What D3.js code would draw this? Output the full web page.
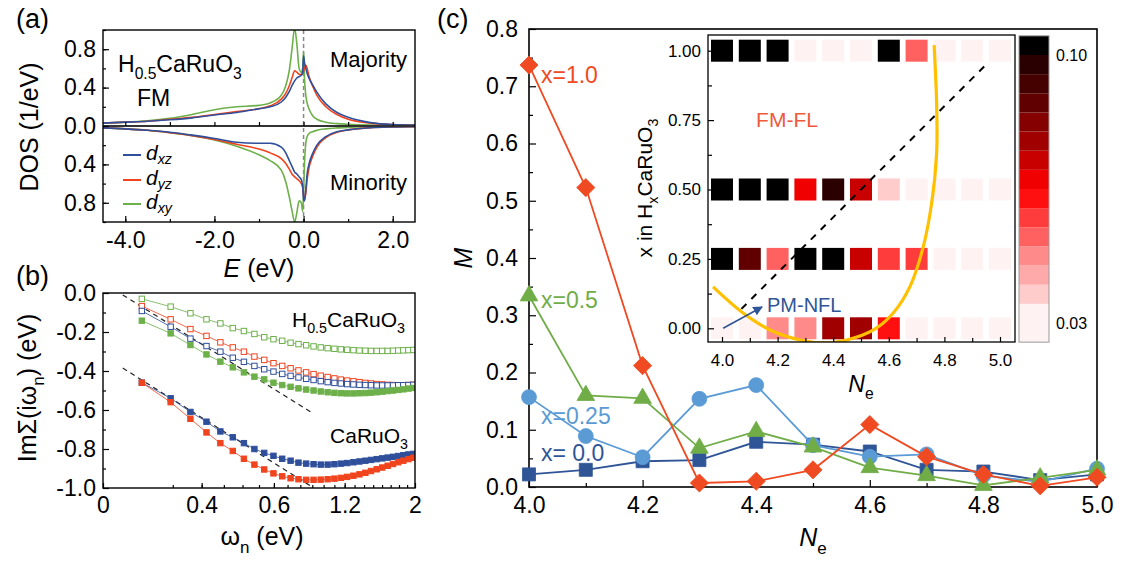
<!DOCTYPE html>
<html>
<head>
<meta charset="utf-8">
<script src="https://cdn.jsdelivr.net/npm/d3@7"></script>
<style>
  body { margin: 0; background: #fff; }
  text { font-family: Arial, "Liberation Sans", sans-serif; }
</style>
</head>
<body>
<svg id="fig" width="1123" height="561"></svg>
<script>
// ---------- data: panel (a) DOS of H0.5CaRuO3 ----------
const energy = [-4.5, -4, -3.5, -3, -2.5, -2, -1.5, -1, -0.75, -0.5, -0.4, -0.32, -0.26, -0.2, -0.15, -0.1,
  -0.05, -0.02, 0, 0.02, 0.05, 0.08, 0.12, 0.2, 0.3, 0.5, 0.75, 1, 1.5, 2, 2.5];
const dosMajXZ = [0.03, 0.04, 0.05, 0.065, 0.085, 0.115, 0.14, 0.18, 0.2, 0.25, 0.3, 0.36, 0.42, 0.47, 0.5, 0.515,
  0.53, 0.56, 0.73, 0.66, 0.6, 0.55, 0.5, 0.43, 0.35, 0.23, 0.14, 0.09, 0.035, 0.015, 0.01];
const dosMajYZ = [0.03, 0.04, 0.05, 0.07, 0.09, 0.12, 0.15, 0.18, 0.21, 0.28, 0.34, 0.42, 0.5, 0.575, 0.56, 0.54,
  0.535, 0.55, 0.57, 0.6, 0.635, 0.6, 0.52, 0.42, 0.32, 0.2, 0.12, 0.07, 0.03, 0.015, 0.01];
const dosMajXY = [0.03, 0.04, 0.055, 0.08, 0.12, 0.17, 0.2, 0.215, 0.24, 0.32, 0.42, 0.58, 0.8, 1.02, 0.85, 0.6,
  0.56, 0.6, 0.78, 0.5, 0.32, 0.24, 0.18, 0.11, 0.07, 0.04, 0.025, 0.018, 0.01, 0.007, 0.005];
const dosMinXZ = [0.02, 0.03, 0.045, 0.065, 0.095, 0.13, 0.17, 0.18, 0.18, 0.22, 0.28, 0.36, 0.42, 0.48, 0.5, 0.53,
  0.56, 0.63, 0.76, 0.78, 0.66, 0.5, 0.4, 0.29, 0.2, 0.11, 0.06, 0.04, 0.018, 0.01, 0.006];
const dosMinYZ = [0.02, 0.03, 0.045, 0.07, 0.1, 0.14, 0.19, 0.24, 0.28, 0.34, 0.39, 0.45, 0.5, 0.53, 0.55, 0.57,
  0.6, 0.64, 0.72, 0.77, 0.7, 0.56, 0.44, 0.32, 0.22, 0.12, 0.065, 0.04, 0.018, 0.01, 0.006];
const dosMinXY = [0.02, 0.03, 0.045, 0.07, 0.1, 0.145, 0.21, 0.3, 0.36, 0.46, 0.58, 0.74, 0.88, 1.0, 0.9, 0.78,
  0.8, 0.89, 0.7, 0.4, 0.18, 0.11, 0.08, 0.06, 0.045, 0.03, 0.02, 0.014, 0.008, 0.005, 0.003];

// ---------- data: panel (b) self-energy on Matsubara axis ----------
const omegaN = [0.031, 0.094, 0.157, 0.220, 0.283, 0.346, 0.408, 0.471, 0.534, 0.597, 0.660, 0.723, 0.785,
  0.848, 0.911, 0.974, 1.037, 1.100, 1.162, 1.225, 1.288, 1.351, 1.414, 1.476, 1.539, 1.602, 1.665, 1.728,
  1.791, 1.853, 1.916, 1.979];
const sigH05XYopen = [-0.03, -0.07, -0.104, -0.135, -0.156, -0.18, -0.195, -0.21, -0.227, -0.237, -0.245, -0.255,
  -0.262, -0.268, -0.274, -0.279, -0.283, -0.286, -0.289, -0.291, -0.293, -0.295, -0.296, -0.297, -0.297, -0.297,
  -0.297, -0.296, -0.295, -0.294, -0.293, -0.292];
const sigH05YZopen = [-0.067, -0.135, -0.185, -0.22, -0.253, -0.279, -0.301, -0.326, -0.343, -0.36, -0.374, -0.386,
  -0.397, -0.407, -0.416, -0.424, -0.431, -0.438, -0.444, -0.449, -0.453, -0.457, -0.461, -0.464, -0.467, -0.469,
  -0.471, -0.472, -0.473, -0.473, -0.472, -0.471];
const sigH05XZopen = [-0.092, -0.173, -0.234, -0.272, -0.301, -0.332, -0.353, -0.374, -0.391, -0.403, -0.415, -0.425,
  -0.433, -0.44, -0.446, -0.452, -0.457, -0.461, -0.464, -0.467, -0.469, -0.471, -0.472, -0.473, -0.474, -0.474,
  -0.474, -0.474, -0.473, -0.473, -0.472, -0.471];
const sigH05XYfull = [-0.142, -0.207, -0.267, -0.315, -0.352, -0.381, -0.407, -0.429, -0.443, -0.46, -0.472, -0.481,
  -0.489, -0.495, -0.5, -0.505, -0.509, -0.512, -0.514, -0.515, -0.515, -0.514, -0.513, -0.511, -0.509, -0.506,
  -0.503, -0.5, -0.497, -0.494, -0.49, -0.487];
const sigCaXZ = [-0.46, -0.54, -0.61, -0.66, -0.71, -0.74, -0.77, -0.8, -0.82, -0.835, -0.85, -0.86, -0.87, -0.875,
  -0.878, -0.88, -0.88, -0.878, -0.875, -0.872, -0.868, -0.864, -0.86, -0.856, -0.852, -0.848, -0.844, -0.84,
  -0.836, -0.832, -0.828, -0.825];
const sigCaYZ = [-0.46, -0.56, -0.645, -0.715, -0.77, -0.81, -0.85, -0.88, -0.905, -0.925, -0.94, -0.95, -0.955,
  -0.958, -0.958, -0.957, -0.955, -0.952, -0.948, -0.943, -0.937, -0.93, -0.922, -0.913, -0.904, -0.895, -0.886,
  -0.877, -0.868, -0.86, -0.852, -0.845];
const fitOmega = [0.008, 0.9];
const fitH05 = [-0.01, -0.615];
const fitCa = [-0.385, -0.995];

// ---------- data: panel (c) moment vs Ne ----------
const neValues = [4.0, 4.1, 4.2, 4.3, 4.4, 4.5, 4.6, 4.7, 4.8, 4.9, 5.0];
const momX00 = [0.022, 0.03, 0.045, 0.047, 0.079, 0.074, 0.062, 0.03, 0.027, 0.012, 0.022];
const momX025 = [0.157, 0.089, 0.052, 0.154, 0.178, 0.073, 0.053, 0.057, 0.02, 0.009, 0.032];
const momX05 = [0.334, 0.16, 0.155, 0.068, 0.097, 0.07, 0.034, 0.02, 0.003, 0.016, 0.03];
const momX10 = [0.737, 0.523, 0.212, 0.007, 0.01, 0.03, 0.109, 0.053, 0.022, 0.002, 0.017];

// inset map: one row per hydrogen content
const hxLevels = [0, 0.25, 0.5, 1.0];
const mapX00 = [0.028, 0.028, 0.047, 0.047, 0.077, 0.077, 0.062, 0.028, 0.028, 0.028, 0.028];
const mapX025 = [0.11, 0.087, 0.052, 0.11, 0.11, 0.072, 0.057, 0.057, 0.028, 0.028, 0.028];
const mapX05 = [0.11, 0.11, 0.11, 0.067, 0.097, 0.072, 0.037, 0.028, 0.028, 0.028, 0.028];
const mapX10 = [0.11, 0.11, 0.11, 0.028, 0.028, 0.028, 0.11, 0.052, 0.028, 0.028, 0.028];
const mapColors = ["#fff2f2", "#fff2f2", "#ffcccc", "#ffaaaa", "#ff8a8a", "#ff6060", "#ff3c3c", "#ff1010",
  "#f00000", "#c80000", "#a00000", "#850000", "#600000", "#450000", "#2a0000", "#000000"];
const guideNe = [3.968, 4.077, 4.173, 4.281, 4.365, 4.449, 4.545, 4.616, 4.676, 4.724, 4.754, 4.772, 4.772, 4.763];
const guideX = [0.149, 0.054, -0.006, -0.042, -0.052, -0.042, -0.006, 0.055, 0.15, 0.294, 0.45, 0.63, 0.81, 1.02];
const boundaryNe = [4.07, 4.955];
const boundaryX = [0.07, 0.955];
const arrowNe = [4.004, 4.144];
const arrowX = [0.0, 0.077];

// ---------- drawing ----------
const FONT = 'Arial, "Liberation Sans", sans-serif';
const BLUE = "#2f4f9b", RED = "#f0441e", GREEN = "#6db04a";
const svg = d3.select("#fig");
svg.append("rect").attr("width", 1123).attr("height", 561).attr("fill", "#fff");

const defs = svg.append("defs");

function styleAxis(g, fs) {
  g.select(".domain").remove();
  g.attr("font-family", FONT).attr("font-size", fs);
  g.selectAll("text").attr("fill", "#000");
  g.selectAll("line").attr("stroke", "#000").attr("stroke-width", 1.2);
  return g;
}

// rich text: parts = [[string, style]] style: n normal, s sub, i italic, is italic sub
function rich(sel, parts, fs, drop = 0.3) {
  let shift = 0;
  parts.forEach(([t, st]) => {
    const sub = st === "s" || st === "is";
    const dy = (sub ? fs * drop : 0) - shift;
    shift = sub ? fs * drop : 0;
    sel.append("tspan")
      .attr("dy", dy)
      .attr("font-size", sub ? fs * 0.68 : fs)
      .attr("font-style", st === "i" || st === "is" ? "italic" : "normal")
      .text(t);
  });
  return sel;
}

function label(x, y, parts, fs, opts = {}) {
  const t = svg.append("text")
    .attr("x", x).attr("y", y)
    .attr("font-size", fs)
    .attr("fill", opts.fill || "#000")
    .attr("text-anchor", opts.anchor || "start");
  if (opts.rotate) t.attr("transform", `rotate(-90,${x},${y})`);
  return rich(t, parts, fs, opts.drop);
}

// ================= panel (a) =================
const xA = d3.scaleLinear([-4.5, 2.5], [103, 415]);
const yA = d3.scaleLinear([-1, 1], [222, 30]);

defs.append("clipPath").attr("id", "clipA").append("rect")
  .attr("x", 103).attr("y", 30).attr("width", 312).attr("height", 192);

const gA = svg.append("g");
gA.append("line").attr("x1", xA(0)).attr("x2", xA(0)).attr("y1", 30).attr("y2", 222)
  .attr("stroke", "#888").attr("stroke-width", 1.5).attr("stroke-dasharray", "4,3");

const dosSeries = [
  { maj: dosMajXY, min: dosMinXY, color: GREEN },
  { maj: dosMajYZ, min: dosMinYZ, color: RED },
  { maj: dosMajXZ, min: dosMinXZ, color: BLUE }
];
const dosLine = d3.line().curve(d3.curveMonotoneX).x(d => xA(d[0])).y(d => yA(d[1]));
const curvesA = gA.append("g").attr("clip-path", "url(#clipA)");
dosSeries.forEach(s => {
  curvesA.append("path").attr("d", dosLine(energy.map((e, i) => [e, s.maj[i]])))
    .attr("fill", "none").attr("stroke", s.color).attr("stroke-width", 1.6);
  curvesA.append("path").attr("d", dosLine(energy.map((e, i) => [e, -s.min[i]])))
    .attr("fill", "none").attr("stroke", s.color).attr("stroke-width", 1.6);
});
gA.append("line").attr("x1", 103).attr("x2", 415).attr("y1", yA(0)).attr("y2", yA(0))
  .attr("stroke", "#333").attr("stroke-width", 2);

// axes (ticks inward)
styleAxis(gA.append("g").attr("transform", "translate(103,0)")
  .call(d3.axisLeft(yA).tickValues([-0.8, -0.4, 0, 0.4, 0.8]).tickSize(-6).tickPadding(7)
    .tickFormat(d => Math.abs(d).toFixed(1))), 23);
styleAxis(gA.append("g").attr("transform", "translate(103,0)")
  .call(d3.axisLeft(yA).tickValues(d3.range(-1, 1.01, 0.2)).tickSize(-3).tickFormat("")), 23);
styleAxis(gA.append("g").attr("transform", "translate(0,222)")
  .call(d3.axisBottom(xA).tickValues([-4, -2, 0, 2]).tickSize(-6).tickPadding(10)
    .tickFormat(d => d.toFixed(1))), 23);
styleAxis(gA.append("g").attr("transform", "translate(0,222)")
  .call(d3.axisBottom(xA).tickValues(d3.range(-4, 2.5, 1)).tickSize(-3).tickFormat("")), 23);
styleAxis(gA.append("g").attr("transform", `translate(0,${yA(0)})`)
  .call(d3.axisBottom(xA).tickValues(d3.range(-4, 2.5, 1)).tickSize(-4).tickFormat("")), 23);
gA.append("rect").attr("x", 103).attr("y", 30).attr("width", 312).attr("height", 192)
  .attr("fill", "none").attr("stroke", "#000").attr("stroke-width", 1.4);

// legend
[["xz", BLUE, 155], ["yz", RED, 180], ["xy", GREEN, 204]].forEach(([o, c, y]) => {
  gA.append("line").attr("x1", 123).attr("x2", 141).attr("y1", y).attr("y2", y)
    .attr("stroke", c).attr("stroke-width", 2);
  label(146, y + 5, [["d", "i"], [o, "is"]], 21, { drop: 0.2 });
});
label(118, 72, [["H", "n"], ["0.5", "s"], ["CaRuO", "n"], ["3", "s"]], 23);
label(137, 106, [["FM", "n"]], 23);
label(407, 67, [["Majority", "n"]], 22, { anchor: "end" });
label(407, 190, [["Minority", "n"]], 22, { anchor: "end" });
label(38, 127, [["DOS (1/eV)", "n"]], 25, { anchor: "middle", rotate: true });
label(259, 277, [["E", "i"], [" (eV)", "n"]], 25, { anchor: "middle" });
label(16, 28, [["(a)", "n"]], 27);

// ================= panel (b) =================
const xB = d3.scaleSqrt([0, 2], [103, 415]);
const yB = d3.scaleLinear([-1, 0], [488, 293]);
defs.append("clipPath").attr("id", "clipB").append("rect")
  .attr("x", 103).attr("y", 293).attr("width", 312).attr("height", 195);
const gB = svg.append("g");
const fitLine = d3.line().x(d => xB(d[0])).y(d => yB(d[1]));
[fitH05, fitCa].forEach(f => {
  gB.append("path").attr("d", fitLine(fitOmega.map((w, i) => [w, f[i]])))
    .attr("fill", "none").attr("stroke", "#222").attr("stroke-width", 1.2).attr("stroke-dasharray", "5,4");
});
const sigSeries = [
  { v: sigH05XYopen, c: GREEN, open: true },
  { v: sigH05YZopen, c: RED, open: true },
  { v: sigH05XZopen, c: BLUE, open: true },
  { v: sigH05XYfull, c: GREEN, open: false },
  { v: sigCaXZ, c: BLUE, open: false },
  { v: sigCaYZ, c: RED, open: false }
];
const sigLine = d3.line().x(d => xB(d[0])).y(d => yB(d[1]));
const plotB = gB.append("g").attr("clip-path", "url(#clipB)");
sigSeries.forEach(s => {
  const pts = omegaN.map((w, i) => [w, s.v[i]]);
  plotB.append("path").attr("d", sigLine(pts)).attr("fill", "none")
    .attr("stroke", s.c).attr("stroke-width", 1).attr("stroke-opacity", 0.8);
  plotB.selectAll(null).data(pts).join("rect")
    .attr("x", d => xB(d[0]) - 2.7).attr("y", d => yB(d[1]) - 2.7)
    .attr("width", 5.4).attr("height", 5.4)
    .attr("fill", s.open ? "#fff" : s.c).attr("stroke", s.c).attr("stroke-width", 1);
});
styleAxis(gB.append("g").attr("transform", "translate(103,0)")
  .call(d3.axisLeft(yB).tickValues(d3.range(-1, 0.01, 0.2)).tickSize(-6).tickPadding(7)
    .tickFormat(d => d.toFixed(1).replace("-0.0", "0.0"))), 23);
styleAxis(gB.append("g").attr("transform", "translate(103,0)")
  .call(d3.axisLeft(yB).tickValues(d3.range(-0.9, 0, 0.2)).tickSize(-3).tickFormat("")), 23);
const bTickVals = [0, 0.2, 0.6, 1.2, 2];
const bTickText = ["0", "0.4", "0.6", "1.2", "2"];
styleAxis(gB.append("g").attr("transform", "translate(0,488)")
  .call(d3.axisBottom(xB).tickValues(bTickVals).tickSize(-5).tickPadding(9)
    .tickFormat((d, i) => bTickText[i])), 23);
styleAxis(gB.append("g").attr("transform", "translate(0,488)")
  .call(d3.axisBottom(xB).tickValues(d3.range(0.1, 1.95, 0.1)).tickSize(-3).tickFormat("")), 23);
gB.append("rect").attr("x", 103).attr("y", 293).attr("width", 312).attr("height", 195)
  .attr("fill", "none").attr("stroke", "#000").attr("stroke-width", 1.4);
label(405, 327, [["H", "n"], ["0.5", "s"], ["CaRuO", "n"], ["3", "s"]], 21, { anchor: "end" });
label(408, 443, [["CaRuO", "n"], ["3", "s"]], 21, { anchor: "end" });
label(36, 388, [["ImΣ(iω", "n"], ["n", "s"], [") (eV)", "n"]], 25, { anchor: "middle", rotate: true });
label(262, 545, [["ω", "n"], ["n", "s"], [" (eV)", "n"]], 25, { anchor: "middle" });
label(16, 285, [["(b)", "n"]], 27);

// ================= panel (c) =================
const xC = d3.scaleLinear([4, 5], [529, 1097]);
const yC = d3.scaleLinear([0, 0.8], [487, 29]);
const gC = svg.append("g");
styleAxis(gC.append("g").attr("transform", "translate(529,0)")
  .call(d3.axisLeft(yC).tickValues(d3.range(0, 0.81, 0.1)).tickSize(-7).tickPadding(11)
    .tickFormat(d3.format(".1f"))), 23);
styleAxis(gC.append("g").attr("transform", "translate(529,0)")
  .call(d3.axisLeft(yC).tickValues(d3.range(0.05, 0.8, 0.1)).tickSize(-4).tickFormat("")), 23);
styleAxis(gC.append("g").attr("transform", "translate(0,487)")
  .call(d3.axisBottom(xC).tickValues(d3.range(4, 5.01, 0.2)).tickSize(-7).tickPadding(10)
    .tickFormat(d3.format(".1f"))), 23);
styleAxis(gC.append("g").attr("transform", "translate(0,487)")
  .call(d3.axisBottom(xC).tickValues(d3.range(4.1, 5, 0.2)).tickSize(-4).tickFormat("")), 23);
gC.append("rect").attr("x", 529).attr("y", 29).attr("width", 568).attr("height", 458)
  .attr("fill", "none").attr("stroke", "#000").attr("stroke-width", 1.6);

const momSeries = [
  { v: momX00, c: "#2f5597", sym: d3.symbolSquare, size: 170 },
  { v: momX025, c: "#5b9bd5", sym: d3.symbolCircle, size: 175 },
  { v: momX05, c: "#70ad47", sym: d3.symbolTriangle, size: 135 },
  { v: momX10, c: "#ef4a21", sym: d3.symbolDiamond2, size: 210 }
];
const momLine = d3.line().x(d => xC(d[0])).y(d => yC(d[1]));
momSeries.forEach(s => {
  const pts = neValues.map((n, i) => [n, s.v[i]]);
  gC.append("path").attr("d", momLine(pts)).attr("fill", "none")
    .attr("stroke", s.c).attr("stroke-width", 1.8);
  gC.selectAll(null).data(pts).join("path")
    .attr("transform", d => `translate(${xC(d[0])},${yC(d[1])})`)
    .attr("d", d3.symbol(s.sym, s.size))
    .attr("fill", s.c).attr("stroke", s.c).attr("stroke-width", 0.8);
});
label(541, 83, [["x=1.0", "n"]], 23, { fill: "#ef4a21" });
label(541, 308, [["x=0.5", "n"]], 23, { fill: "#70ad47" });
label(541, 424, [["x=0.25", "n"]], 23, { fill: "#5b9bd5" });
label(541, 461, [["x= 0.0", "n"]], 23, { fill: "#2f5597" });
label(472, 258, [["M", "i"]], 25, { anchor: "middle", rotate: true });
label(813, 546, [["N", "i"], ["e", "s"]], 25, { anchor: "middle" });
label(437, 28, [["(c)", "n"]], 27);

// ---------- inset ----------
const xI = d3.scaleLinear([4, 5], [722, 1000]);
const yI = d3.scaleLinear([0, 1], [328.3, 50.7]);
const gI = svg.append("g");
gI.append("rect").attr("x", 708).attr("y", 35).attr("width", 307).attr("height", 307).attr("fill", "#fff");
defs.append("clipPath").attr("id", "clipI").append("rect")
  .attr("x", 708).attr("y", 35).attr("width", 307).attr("height", 307);
const colorQ = d3.scaleQuantize().domain([0.025, 0.105]).range(mapColors);
const mapRows = [mapX00, mapX025, mapX05, mapX10];
const cells = [];
hxLevels.forEach((h, r) => neValues.forEach((n, c) => cells.push({ ne: n, hx: h, v: mapRows[r][c] })));
gI.selectAll(null).data(cells).join("rect")
  .attr("x", d => xI(d.ne) - 11).attr("y", d => yI(d.hx) - 11)
  .attr("width", 22).attr("height", 22)
  .attr("fill", d => colorQ(d.v));

const plotI = gI.append("g").attr("clip-path", "url(#clipI)");
const lineI = d3.line().x(d => xI(d[0])).y(d => yI(d[1]));
plotI.append("path").attr("d", lineI(boundaryNe.map((n, i) => [n, boundaryX[i]])))
  .attr("fill", "none").attr("stroke", "#000").attr("stroke-width", 2).attr("stroke-dasharray", "7,7");
plotI.append("path")
  .attr("d", d3.line().curve(d3.curveCatmullRom).x(d => xI(d[0])).y(d => yI(d[1]))(guideNe.map((n, i) => [n, guideX[i]])))
  .attr("fill", "none").attr("stroke", "#ffc000").attr("stroke-width", 3.2);

defs.append("marker").attr("id", "arrowHead").attr("viewBox", "0 0 10 10")
  .attr("refX", 9).attr("refY", 5).attr("markerWidth", 6).attr("markerHeight", 6)
  .attr("orient", "auto")
  .append("path").attr("d", "M0,0 L10,5 L0,10 Z").attr("fill", "#2f5597");
gI.append("path").attr("d", lineI(arrowNe.map((n, i) => [n, arrowX[i]])))
  .attr("stroke", "#2f5597").attr("stroke-width", 1.6).attr("marker-end", "url(#arrowHead)");

styleAxis(gI.append("g").attr("transform", "translate(708,0)")
  .call(d3.axisLeft(yI).tickValues([0, 0.25, 0.5, 0.75, 1]).tickSize(-6).tickPadding(7)
    .tickFormat(d3.format(".2f"))), 17);
styleAxis(gI.append("g").attr("transform", "translate(708,0)")
  .call(d3.axisLeft(yI).tickValues([0.125, 0.375, 0.625, 0.875]).tickSize(-4).tickFormat("")), 17);
styleAxis(gI.append("g").attr("transform", "translate(0,342)")
  .call(d3.axisBottom(xI).tickValues(d3.range(4, 5.01, 0.2)).tickSize(-5).tickPadding(12)
    .tickFormat(d3.format(".1f"))), 17);
styleAxis(gI.append("g").attr("transform", "translate(0,342)")
  .call(d3.axisBottom(xI).tickValues(d3.range(4.1, 5, 0.2)).tickSize(-4).tickFormat("")), 17);
gI.append("rect").attr("x", 708).attr("y", 35).attr("width", 307).attr("height", 307)
  .attr("fill", "none").attr("stroke", "#000").attr("stroke-width", 1.3);

label(787, 127, [["FM-FL", "n"]], 21, { fill: "#f05a3a", anchor: "middle" });
label(767, 312, [["PM-NFL", "n"]], 20, { fill: "#2f5597" });
label(652, 188, [["x in H", "n"], ["x", "s"], ["CaRuO", "n"], ["3", "s"]], 21, { anchor: "middle", rotate: true });
label(861, 392, [["N", "i"], ["e", "s"]], 23, { anchor: "middle" });

// colour bar
const cbY = d3.scaleLinear([0.03, 0.10], [323, 55]);
const bandEdges = d3.range(0, 17).map(i => 0.025 + i * 0.005);
const gCB = svg.append("g");
gCB.selectAll(null).data(mapColors).join("rect")
  .attr("x", 1019).attr("width", 30)
  .attr("y", (c, i) => cbY(bandEdges[i + 1]))
  .attr("height", (c, i) => cbY(bandEdges[i]) - cbY(bandEdges[i + 1]))
  .attr("fill", c => c);
gCB.append("rect").attr("x", 1019).attr("y", cbY(0.105)).attr("width", 30)
  .attr("height", cbY(0.025) - cbY(0.105)).attr("fill", "none").attr("stroke", "#999").attr("stroke-width", 1);
[0.10, 0.03].forEach(v => {
  gCB.append("text").attr("x", 1056).attr("y", cbY(v) + 6).attr("font-size", 16)
    .attr("font-family", FONT).text(v.toFixed(2));
});
</script>
</body>
</html>
